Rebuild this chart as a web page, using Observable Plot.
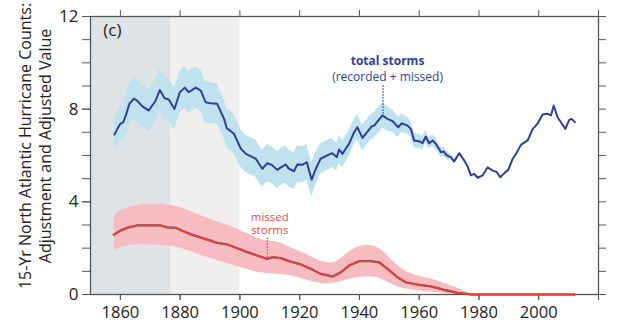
<!DOCTYPE html>
<html><head><meta charset="utf-8">
<script src="https://cdn.jsdelivr.net/npm/d3@7"></script>
<script src="https://cdn.jsdelivr.net/npm/@observablehq/plot@0.6"></script>
<style>body{margin:0;background:#fff}</style>
</head><body><div id="chart"></div>
<script>
const totalYears = [1858,1859,1860,1861,1862,1863,1864.5,1865.6,1867.3,1869.5,1871.8,1873.2,1874.8,1876.2,1878.1,1879.9,1881.5,1882.9,1885.2,1886.9,1888.5,1890.2,1892.4,1894.7,1895.6,1898,1900.3,1902,1904.2,1905.3,1907.5,1909.2,1910.9,1912.5,1913.7,1915.3,1916.4,1918.1,1919.2,1920.9,1922.4,1924,1925.4,1927,1929.8,1930.9,1932.4,1933.2,1934.3,1936.5,1938.2,1939.3,1941,1942.5,1944,1944.9,1947.7,1949.4,1951.1,1953,1954.1,1956.1,1957.2,1958.3,1960.3,1961.1,1962.2,1963.3,1964.5,1965.6,1967.3,1968.2,1969.3,1970.6,1971.7,1973.4,1975.1,1976.2,1977.3,1978.4,1979.6,1981.2,1982.9,1984.6,1986,1987.1,1988.5,1989.8,1991.3,1992.4,1994.1,1996.3,1998,1999.6,2001.3,2003,2004.1,2005,2006.3,2008.9,2010.2,2011,2012.1];
const totalValues = [6.9,7.15,7.37,7.44,7.8,8.23,8.45,8.37,8.13,7.94,8.37,8.83,8.47,8.42,8.01,8.73,8.93,8.73,8.93,8.8,8.3,8.26,8.23,7.58,7.18,6.94,6.3,6.07,5.93,5.86,5.43,5.67,5.57,5.38,5.49,5.61,5.43,5.32,5.61,5.6,5.71,4.95,5.43,5.86,6.04,6.1,5.93,6.26,6.07,6.5,7.0,7.22,6.76,7.0,7.25,7.29,7.73,7.58,7.48,7.22,7.39,7.29,7.15,6.65,6.6,6.53,6.82,6.53,6.65,6.5,6.14,6.17,6.0,5.93,5.74,6.1,5.78,5.52,5.14,5.21,5.04,5.14,5.49,5.35,5.28,5.06,5.24,5.38,5.86,6.07,6.47,6.65,7.15,7.37,7.77,7.8,7.73,8.16,7.65,7.15,7.54,7.58,7.44];
// half-width of the light-blue uncertainty band (null = no band)
const totalUnc = [0.65,0.7,0.75,0.8,0.85,0.9,0.9,0.9,0.9,0.9,0.9,0.9,0.9,0.9,0.9,0.9,0.9,0.9,0.9,0.9,0.9,0.88,0.86,0.85,0.85,0.85,0.82,0.8,0.8,0.8,0.8,0.8,0.8,0.8,0.8,0.8,0.8,0.8,0.8,0.78,0.76,0.74,0.7,0.66,0.64,0.62,0.6,0.6,0.58,0.56,0.55,0.55,0.55,0.55,0.55,0.55,0.55,0.52,0.48,0.44,0.4,0.36,0.34,0.32,0.3,0.28,0.27,0.26,0.25,0.24,0.22,0.2,0.18,0.14,0.1,0.04,null,null,null,null,null,null,null,null,null,null,null,null,null,null,null,null,null,null,null,null,null,null,null,null,null,null,null];

const missedYears = [1857.8,1860,1862.8,1865.6,1869,1873.5,1875.7,1878.5,1881.3,1884.6,1889.1,1892.4,1895.8,1899.1,1902.5,1905.8,1909,1910.9,1913.7,1917,1920.4,1923.7,1927,1931,1933.8,1936.5,1939.9,1943.8,1946.6,1949.4,1952.7,1955.5,1959.4,1963.9,1968.4,1972.8,1977.5,1990,2000,2012];
const missedValues = [2.58,2.76,2.9,2.98,2.99,2.98,2.9,2.88,2.72,2.55,2.37,2.23,2.16,2.0,1.83,1.68,1.54,1.61,1.57,1.42,1.3,1.11,0.89,0.78,0.96,1.25,1.44,1.44,1.39,1.11,0.75,0.53,0.43,0.35,0.2,0.07,0,0,0,0];

const missedBandYears = [1858,1860,1863,1866,1869,1873,1876,1879,1882,1885,1889,1893,1897,1900,1903,1906,1909,1911,1914,1917,1920,1924,1928,1931,1934,1937,1940,1944,1947,1950,1953,1956,1960,1964,1968,1972,1976,1978];
const missedBandLow = [1.9,2.05,2.12,2.15,2.14,2.13,2.1,2.05,1.92,1.78,1.6,1.45,1.3,1.18,1.05,0.95,0.89,0.9,0.85,0.82,0.72,0.55,0.45,0.46,0.55,0.68,0.75,0.78,0.7,0.5,0.3,0.22,0.15,0.1,0.05,0,0,0];
const missedBandHigh = [3.44,3.6,3.78,3.86,3.9,3.9,3.86,3.8,3.66,3.5,3.3,3.1,2.95,2.78,2.6,2.42,2.3,2.3,2.22,2.0,1.88,1.62,1.38,1.32,1.55,1.9,2.1,2.15,2.0,1.6,1.2,0.95,0.78,0.68,0.5,0.32,0.1,0];

const shadeStart = [1850, 1877];
const shadeEnd = [1877, 1900];
const shadeColors = ["#dfe3e5", "#f0efee"];

const xTicks = [1860,1880,1900,1920,1940,1960,1980,2000,2020];
const xLabels = [1860,1880,1900,1920,1940,1960,1980,2000];
const yTicks = [0,1,2,3,4,5,6,7,8,9,10,11,12];
const yLabels = [0,4,8,12];

const total = totalYears.map((y,i)=>({year:y, v:totalValues[i], u:totalUnc[i]}));
const totalBand = total.filter(d=>d.u!=null);
const missed = missedYears.map((y,i)=>({year:y, v:missedValues[i]}));
const missedBand = missedBandYears.map((y,i)=>({year:y, lo:missedBandLow[i], hi:missedBandHigh[i]}));
const shades = shadeStart.map((s,i)=>({x1:s, x2:shadeEnd[i], fill:shadeColors[i]}));

const axisColor = "#555";
const font = "'Open Sans', sans-serif";

const chart = Plot.plot({
  width: 620, height: 326,
  marginLeft: 90, marginRight: 22, marginTop: 16, marginBottom: 32,
  x: {domain: [1850, 2020]},
  y: {domain: [0, 12]},
  style: {fontFamily: font, fontSize: "16px", color: "#222", background: "#fff", overflow: "visible"},
  marks: [
    Plot.rect(shades, {x1:"x1", x2:"x2", y1: 0, y2: 12, fill: d=>d.fill}),
    Plot.areaY(totalBand, {x:"year", y1:d=>d.v-d.u, y2:d=>d.v+d.u, fill:"#bfe3ee", curve:"linear"}),
    Plot.areaY(missedBand, {x:"year", y1:"lo", y2:"hi", fill:"#f7bcc1", curve:"basis"}),
    Plot.frame({stroke: axisColor, strokeWidth: 1.3}),
    Plot.axisY({anchor:"left", ticks: yTicks, tickFormat: ()=>"", tickSize: 8, stroke: axisColor, label: null}),
    Plot.axisY({anchor:"left", ticks: yLabels, tickSize: 8, tickPadding: 4, stroke: axisColor, label: null, fontSize: 17}),
    Plot.axisY({anchor:"right", ticks: yTicks, tickFormat: ()=>"", tickSize: 7, stroke: axisColor, label: null}),
    Plot.axisX({anchor:"bottom", ticks: xTicks, tickFormat: ()=>"", tickSize: 6, stroke: axisColor, label: null}),
    Plot.axisX({anchor:"bottom", ticks: xLabels, tickSize: 6, tickPadding: 6, tickFormat: d=>String(d), stroke: axisColor, label: null, fontSize: 16.5}),
    Plot.axisX({anchor:"top", ticks: xTicks, tickFormat: ()=>"", tickSize: 7, stroke: axisColor, label: null}),
    Plot.line(missed, {x:"year", y:"v", stroke:"#555", strokeWidth: 2.2, curve:"linear"}),
    Plot.line(missed, {x:"year", y:"v", stroke:"#ef3e36", strokeWidth: 1.8, strokeDasharray:"9,1.5", curve:"linear"}),
    Plot.line(total, {x:"year", y:"v", stroke:"#2f3f99", strokeWidth: 2, curve:"linear"}),
    Plot.ruleX([1947.9], {y1: 7.78, y2: 9.05, stroke:"#2f3f99", strokeWidth: 1.2, strokeDasharray:"1.5,1.5"}),
    Plot.text(["total storms"], {x: 1949.4, y: 10.08, fill:"#2f3f99", fontWeight: "bold", fontSize: 12}),
    Plot.text(["(recorded + missed)"], {x: 1949.4, y: 9.4, fill:"#2f3f99", fontSize: 12}),
    Plot.ruleX([1909.2], {y1: 1.6, y2: 2.48, stroke:"#ef3e36", strokeWidth: 1.2, strokeDasharray:"1.5,1.5"}),
    Plot.text(["missed\nstorms"], {x: 1910, y: 3.08, fill:"#ef4a42", fontSize: 11.5, lineHeight: 1.2}),
    Plot.text(["(c)"], {x: 1857.3, y: 11.4, fill:"#222", fontSize: 17})
  ]
});
document.getElementById("chart").appendChild(chart);

const svg = d3.select(chart);
const lbl = svg.append("text")
  .attr("transform", "translate(0,146) rotate(-90)")
  .attr("text-anchor", "middle")
  .attr("font-family", font)
  .attr("font-size", 16)
  .attr("fill", "#222");
lbl.append("tspan").attr("x", 0).attr("y", 31).text("15-Yr North Atlantic Hurricane Counts:");
lbl.append("tspan").attr("x", 0).attr("y", 51).text("Adjustment and Adjusted Value");
</script>
</body></html>
